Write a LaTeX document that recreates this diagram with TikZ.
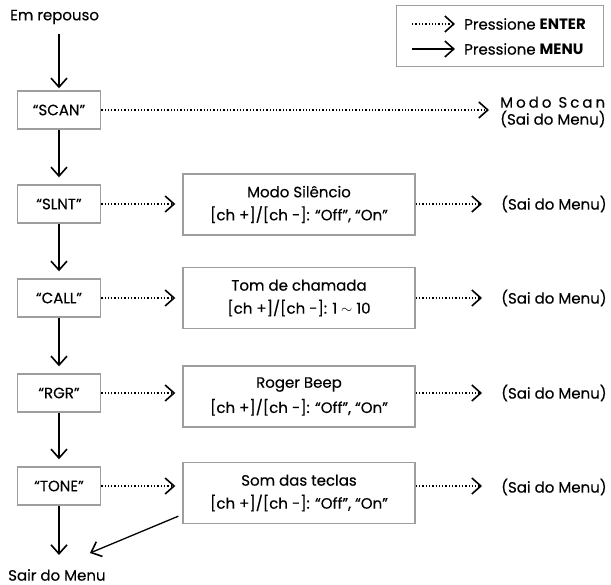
\documentclass[tikz,border=0pt]{standalone}
\usepackage{fontspec}
\setmainfont{Poppins}[FakeBold=0.35, BoldFeatures={FakeBold=0}]
\usetikzlibrary{arrows.meta, positioning}

\begin{document}
\begin{tikzpicture}[
    x=1pt, y=-1pt,
    font=\fontsize{15}{17}\selectfont,
    >={Straight Barb[length=9pt, width=16pt, line width=1.6pt]},
    item/.style={rectangle, draw=black!38, line width=1.4pt, minimum width=83pt, minimum height=38pt, inner sep=2pt},
    option/.style={rectangle, draw=black!38, line width=1.4pt, minimum width=232pt, minimum height=61pt, align=center, inner sep=2pt},
    menu/.style={draw, ->, line width=1.3pt},
    enter/.style={draw, ->, line width=1.3pt, dotted}
]
\useasboundingbox (0,0) rectangle (611,585);
% Legend
\node[rectangle, draw=black!38, line width=1.4pt, minimum width=207pt, minimum height=61pt] (L) at (500,36) {};
\coordinate (L1a) at (412,24);
\coordinate (L1b) at (455,24);
\coordinate (L2a) at (412,49);
\coordinate (L2b) at (455,49);
\node[anchor=west, inner sep=0pt] (LT1) at (464,24) {Pressione \textbf{ENTER}};
\node[anchor=west, inner sep=0pt] (LT2) at (464,49) {Pressione \textbf{MENU}};
\path (L1a) edge[enter] (L1b);
\path (L2a) edge[menu] (L2b);
% Menu items
\node[anchor=west, inner sep=0pt] (start) at (10,17) {Em repouso};
\node[item] (M1) at (59,110) {“SCAN”};
\node[item] (M2) at (59,204) {“SLNT”};
\node[item] (M3) at (59,298) {“CALL”};
\node[item] (M4) at (59,393) {“RGR”};
\node[item] (M5) at (59,486) {“TONE”};
\node[anchor=west, inner sep=0pt] (quit) at (8,575) {Sair do Menu};
% Options
\node[option] (O2) at (299,204.5) {Modo Silêncio\\[6pt] [ch +]/[ch -]: “Off”, “On”};
\node[option] (O3) at (299,298) {Tom de chamada\\[6pt] [ch +]/[ch -]: 1 $\sim$ 10};
\node[option] (O4) at (299,396.5) {Roger Beep\\[6pt] [ch +]/[ch -]: “Off”, “On”};
\node[option] (O5) at (299,493) {Som das teclas\\[6pt] [ch +]/[ch -]: “Off”, “On”};
% Exits
\node[anchor=west, inner sep=0pt, align=left] (E1) at (500,112) {{\addfontfeature{LetterSpace=20}Modo Scan}\\(Sai do Menu)};
\node[anchor=west, inner sep=0pt] (E2) at (501,204) {(Sai do Menu)};
\node[anchor=west, inner sep=0pt] (E3) at (501,298) {(Sai do Menu)};
\node[anchor=west, inner sep=0pt] (E4) at (501,393) {(Sai do Menu)};
\node[anchor=west, inner sep=0pt] (E5) at (501,487) {(Sai do Menu)};
\coordinate (T1) at (489,110);
\coordinate (Q) at (59,555);
\coordinate (Q2) at (90,553);
% Edges with MENU
\path ([yshift=-10pt]start.south -| M1.north) edge[menu] ([yshift=2pt]M1.north);
\path (M1) edge[menu, shorten >=7pt] (M2);
\path (M2) edge[menu, shorten >=7pt] (M3);
\path (M3) edge[menu, shorten >=7pt] (M4);
\path (M4) edge[menu, shorten >=7pt] (M5);
\path (M5) edge[menu] (Q);
\path ([xshift=-4pt, yshift=8pt]O5.south west) edge[menu] (Q2);
% Edges with ENTER
\path (M1) edge[enter] (T1);
\path (M2) edge[enter, shorten >=7pt] (M2 -| O2.west);
\path (M3) edge[enter, shorten >=7pt] (M3 -| O3.west);
\path (M4) edge[enter, shorten >=7pt] (M4 -| O4.west);
\path (M5) edge[enter, shorten >=7pt] (M5 -| O5.west);
\path (M2 -| O2.east) edge[enter, shorten >=19pt] (M2 -| E2.west);
\path (M3 -| O3.east) edge[enter, shorten >=19pt] (M3 -| E3.west);
\path (M4 -| O4.east) edge[enter, shorten >=19pt] (M4 -| E4.west);
\path (M5 -| O5.east) edge[enter, shorten >=19pt] (M5 -| E5.west);
\end{tikzpicture}
\end{document}
